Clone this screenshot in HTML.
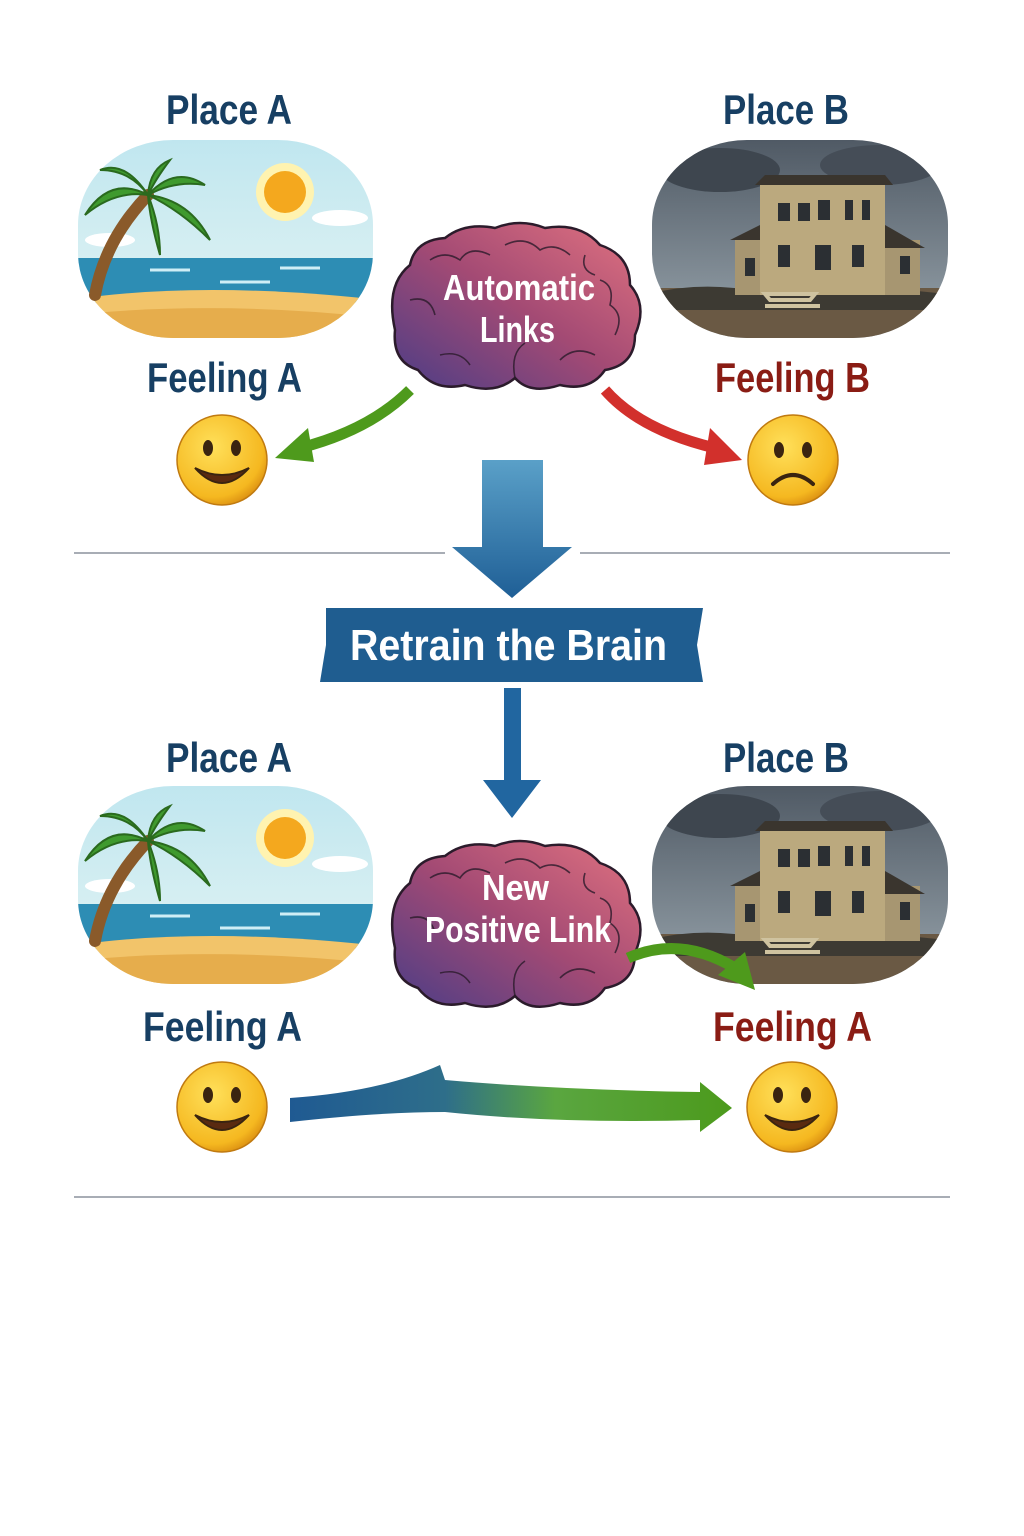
<!DOCTYPE html>
<html><head><meta charset="utf-8"><style>
html,body{margin:0;padding:0;background:#fff;}
svg{display:block}
text{font-family:"Liberation Sans Narrow","Liberation Sans",sans-serif;font-weight:bold;}
</style></head><body>
<svg width="1024" height="1536" viewBox="0 0 1024 1536" xmlns="http://www.w3.org/2000/svg">
<defs>
<clipPath id="blobA"><rect x="78" y="140" width="295" height="198" rx="95" ry="85"/></clipPath>
<clipPath id="blobB"><rect x="652" y="140" width="296" height="198" rx="95" ry="85"/></clipPath>
<linearGradient id="sky" x1="0" y1="0" x2="0" y2="1"><stop offset="0" stop-color="#bfe6ef"/><stop offset="1" stop-color="#e6f5f4"/></linearGradient>
<linearGradient id="storm" x1="0" y1="0" x2="0" y2="1"><stop offset="0" stop-color="#4e5863"/><stop offset="1" stop-color="#9aa6ae"/></linearGradient>
<linearGradient id="brainG" x1="0" y1="1" x2="1" y2="0"><stop offset="0" stop-color="#4b3d86"/><stop offset="0.5" stop-color="#a34a74"/><stop offset="1" stop-color="#e27380"/></linearGradient>
<radialGradient id="face" cx="0.4" cy="0.35" r="0.7"><stop offset="0" stop-color="#ffe05a"/><stop offset="0.8" stop-color="#f5b820"/><stop offset="1" stop-color="#d98c10"/></radialGradient>
<linearGradient id="bigArrow" x1="0" y1="0" x2="0" y2="1"><stop offset="0" stop-color="#5aa0c8"/><stop offset="1" stop-color="#1f5f96"/></linearGradient>
<linearGradient id="bottomArrow" x1="0" y1="0" x2="1" y2="0"><stop offset="0" stop-color="#1f5a92"/><stop offset="0.35" stop-color="#2e6e8a"/><stop offset="0.6" stop-color="#5aa640"/><stop offset="1" stop-color="#4c9a1c"/></linearGradient>
<g id="beach">
 <g clip-path="url(#blobA)">
  <rect x="70" y="135" width="310" height="210" fill="url(#sky)"/>
  <ellipse cx="340" cy="218" rx="28" ry="8" fill="#fff"/>
  <ellipse cx="110" cy="240" rx="25" ry="7" fill="#fff"/>
  <rect x="70" y="258" width="310" height="45" fill="#2d8db4"/>
  <path d="M150 270 h40 M220 282 h50 M280 268 h40 M180 292 h40" stroke="#cfeef6" stroke-width="3"/>
  <path d="M70 300 Q200 280 380 300 L380 345 L70 345Z" fill="#f2c46a"/>
  <path d="M70 315 Q220 300 380 318 L380 345 L70 345Z" fill="#e6ad4c"/>
 </g>
 <circle cx="285" cy="192" r="29" fill="#fff3b0"/>
 <circle cx="285" cy="192" r="21" fill="#f4a81e"/>
 <path d="M95 295 Q105 240 148 195" stroke="#8a5a2a" stroke-width="12" fill="none" stroke-linecap="round"/>
 <g fill="#3f9a2e" stroke="#2a6a1e" stroke-width="2">
  <path d="M148 195 Q110 175 85 215 Q115 190 148 195Z"/>
  <path d="M148 195 Q175 165 205 185 Q175 180 148 195Z"/>
  <path d="M148 195 Q190 200 210 240 Q180 210 148 195Z"/>
  <path d="M148 195 Q125 160 100 170 Q130 170 148 195Z"/>
  <path d="M148 195 Q160 225 160 255 Q150 220 148 195Z"/>
  <path d="M148 195 Q150 168 170 160 Q155 180 148 195Z"/>
 </g>
</g>
<g id="house">
 <g clip-path="url(#blobB)">
  <rect x="645" y="135" width="310" height="210" fill="url(#storm)"/>
  <ellipse cx="720" cy="170" rx="60" ry="22" fill="#3e464f"/>
  <ellipse cx="880" cy="165" rx="60" ry="20" fill="#454d57"/>
  <rect x="645" y="288" width="310" height="55" fill="#6a5944"/>
  <path d="M645 295 Q700 280 760 292 Q830 280 955 295 L955 310 L645 310Z" fill="#3d3a33"/>
  <rect x="735" y="240" width="185" height="55" fill="#a79671"/>
  <rect x="760" y="185" width="125" height="110" fill="#bba97e"/>
  <path d="M755 185 L765 175 L885 175 L893 185Z" fill="#3a352e"/>
  <path d="M730 240 L760 225 L760 240Z" fill="#3a352e"/>
  <path d="M885 225 L925 248 L885 248Z" fill="#3a352e"/>
  <g fill="#2b2f33">
   <rect x="778" y="203" width="12" height="18"/><rect x="798" y="203" width="12" height="18"/><rect x="818" y="200" width="12" height="20"/><rect x="845" y="200" width="8" height="20"/><rect x="862" y="200" width="8" height="20"/>
   <rect x="778" y="245" width="12" height="22"/><rect x="815" y="245" width="16" height="25"/><rect x="852" y="245" width="12" height="22"/><rect x="745" y="258" width="10" height="18"/><rect x="900" y="256" width="10" height="18"/>
  </g>
  <path d="M770 300 h40 l5 -6 h-50z M765 306 h55" stroke="#cfc3a0" stroke-width="4" fill="none"/>
 </g>
</g>
<g id="brain">
 <path d="M395 330 Q385 285 410 265 Q415 240 445 238 Q465 222 495 228 Q520 218 545 228 Q580 222 600 245 Q630 255 630 285 Q648 305 635 335 Q635 365 605 370 Q590 392 560 385 Q530 395 515 378 Q495 395 465 385 Q435 392 418 370 Q392 362 395 330Z" fill="url(#brainG)" stroke="#2b1b2b" stroke-width="2.5"/>
 <g fill="none" stroke="#2b1b2b" stroke-width="1.6" opacity="0.8">
  <path d="M430 260 q15 -10 30 0 q10 -15 30 -5"/><path d="M505 245 q20 -10 35 5 q15 -8 30 5"/>
  <path d="M410 300 q20 -5 25 15"/><path d="M600 280 q15 5 10 25 q15 10 5 30"/>
  <path d="M515 378 q-5 -25 10 -35"/><path d="M440 355 q20 -5 30 10"/><path d="M560 360 q15 -15 35 -5"/>
  <path d="M585 255 q-5 15 10 20"/>
 </g>
</g>
<g id="smile">
 <circle r="45" fill="url(#face)" stroke="#c07a10" stroke-width="1.5"/>
 <ellipse cx="-14" cy="-12" rx="5" ry="8" fill="#3a2410"/>
 <ellipse cx="14" cy="-12" rx="5" ry="8" fill="#3a2410"/>
 <path d="M-27 8 Q0 38 27 8 Q0 22 -27 8Z" fill="#5a2a10" stroke="#3a2410" stroke-width="2"/>
</g>
<g id="frown">
 <circle r="45" fill="url(#face)" stroke="#c07a10" stroke-width="1.5"/>
 <ellipse cx="-14" cy="-10" rx="5" ry="8" fill="#3a2410"/>
 <ellipse cx="14" cy="-10" rx="5" ry="8" fill="#3a2410"/>
 <path d="M-20 24 Q0 6 20 24" stroke="#3a2410" stroke-width="4" fill="none" stroke-linecap="round"/>
</g>
</defs>

<!-- Row 1 -->
<text x="166" y="124" font-size="42" fill="#173f63" textLength="126" lengthAdjust="spacingAndGlyphs">Place A</text>
<text x="723" y="124" font-size="42" fill="#173f63" textLength="126" lengthAdjust="spacingAndGlyphs">Place B</text>
<use href="#beach"/>
<use href="#house"/>
<use href="#brain"/>
<text x="443" y="300" font-size="36" fill="#fff" textLength="152" lengthAdjust="spacingAndGlyphs">Automatic</text>
<text x="480" y="342" font-size="36" fill="#fff" textLength="75" lengthAdjust="spacingAndGlyphs">Links</text>
<text x="147" y="392" font-size="42" fill="#173f63" textLength="155" lengthAdjust="spacingAndGlyphs">Feeling A</text>
<text x="715" y="392" font-size="42" fill="#8a1c14" textLength="155" lengthAdjust="spacingAndGlyphs">Feeling B</text>
<use href="#smile" x="222" y="460"/>
<use href="#frown" x="793" y="460"/>
<path d="M410 390 Q370 430 300 448" stroke="#4e9a1c" stroke-width="11" fill="none"/>
<path d="M275 458 L308 428 L314 462Z" fill="#4e9a1c"/>
<path d="M605 390 Q640 430 715 448" stroke="#d2302c" stroke-width="11" fill="none"/>
<path d="M742 460 L710 428 L704 465Z" fill="#d2302c"/>

<line x1="74" y1="553" x2="445" y2="553" stroke="#a8adb5" stroke-width="2"/>
<line x1="580" y1="553" x2="950" y2="553" stroke="#a8adb5" stroke-width="2"/>
<path d="M482 460 H543 V547 H572 L512 598 L452 547 H482Z" fill="url(#bigArrow)"/>
<path d="M326 608 H703 L697 645 L703 682 H320 L326 645Z" fill="#1f5d90"/>
<text x="350" y="660" font-size="44" fill="#fff" textLength="317" lengthAdjust="spacingAndGlyphs">Retrain the Brain</text>
<path d="M504 688 H521 V780 H541 L512 818 L483 780 H504Z" fill="#2166a0"/>

<!-- Row 2 -->
<text x="166" y="772" font-size="42" fill="#173f63" textLength="126" lengthAdjust="spacingAndGlyphs">Place A</text>
<text x="723" y="772" font-size="42" fill="#173f63" textLength="126" lengthAdjust="spacingAndGlyphs">Place B</text>
<use href="#beach" y="646"/>
<use href="#house" y="646"/>
<use href="#brain" y="618"/>
<text x="482" y="900" font-size="36" fill="#fff" textLength="67" lengthAdjust="spacingAndGlyphs">New</text>
<text x="425" y="942" font-size="36" fill="#fff" textLength="186" lengthAdjust="spacingAndGlyphs">Positive Link</text>
<path d="M628 958 Q680 935 735 968" stroke="#4e9a1c" stroke-width="11" fill="none"/>
<path d="M755 990 L745 952 L718 975Z" fill="#4e9a1c"/>
<text x="143" y="1041" font-size="42" fill="#173f63" textLength="159" lengthAdjust="spacingAndGlyphs">Feeling A</text>
<text x="713" y="1041" font-size="42" fill="#8a1c14" textLength="159" lengthAdjust="spacingAndGlyphs">Feeling A</text>
<use href="#smile" x="222" y="1107"/>
<use href="#smile" x="792" y="1107"/>
<path d="M290 1098 Q380 1092 440 1065 L445 1080 Q560 1090 700 1092 L700 1082 L732 1108 L700 1132 L700 1120 Q560 1124 445 1112 Q380 1112 290 1122Z" fill="url(#bottomArrow)"/>
<line x1="74" y1="1197" x2="950" y2="1197" stroke="#a8adb5" stroke-width="2"/>
</svg>
</body></html>
